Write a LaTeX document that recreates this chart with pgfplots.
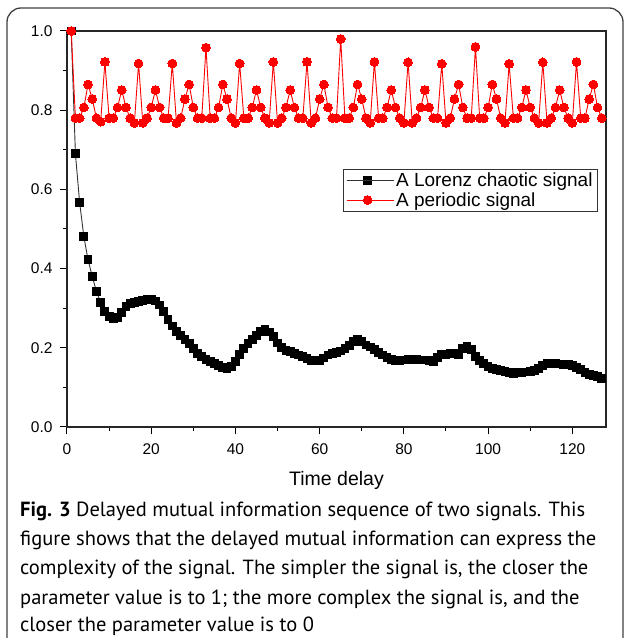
\documentclass[border=0pt]{standalone}
\usepackage{fontspec}
\setmainfont{Liberation Sans}
\newfontfamily\capfont{PT Sans}
\usepackage{pgfplots}
\pgfplotsset{compat=1.18}
\usepackage{pgfplotstable}

% delayed mutual information of the Lorenz signal
\pgfplotstableread{
t y
1 1.000
2 0.690
3 0.567
4 0.481
5 0.422
6 0.380
7 0.342
8 0.314
9 0.292
10 0.280
11 0.274
12 0.277
13 0.290
14 0.305
15 0.312
16 0.315
17 0.317
18 0.320
19 0.323
20 0.322
21 0.318
22 0.308
23 0.292
24 0.272
25 0.255
26 0.242
27 0.231
28 0.220
29 0.210
30 0.198
31 0.186
32 0.178
33 0.171
34 0.165
35 0.160
36 0.155
37 0.150
38 0.148
39 0.152
40 0.165
41 0.183
42 0.198
43 0.210
44 0.220
45 0.232
46 0.242
47 0.246
48 0.240
49 0.228
50 0.212
51 0.200
52 0.193
53 0.190
54 0.186
55 0.182
56 0.178
57 0.173
58 0.168
59 0.167
60 0.168
61 0.174
62 0.182
63 0.186
64 0.188
65 0.192
66 0.198
67 0.206
68 0.215
69 0.220
70 0.215
71 0.207
72 0.202
73 0.195
74 0.188
75 0.182
76 0.176
77 0.170
78 0.167
79 0.168
80 0.169
81 0.170
82 0.170
83 0.170
84 0.169
85 0.169
86 0.167
87 0.165
88 0.175
89 0.183
90 0.184
91 0.185
92 0.185
93 0.183
94 0.198
95 0.203
96 0.195
97 0.178
98 0.168
99 0.160
100 0.153
101 0.148
102 0.145
103 0.143
104 0.140
105 0.138
106 0.136
107 0.137
108 0.138
109 0.139
110 0.140
111 0.143
112 0.148
113 0.155
114 0.160
115 0.161
116 0.160
117 0.159
118 0.158
119 0.157
120 0.155
121 0.150
122 0.145
123 0.138
124 0.133
125 0.130
126 0.127
127 0.123
}\lorenz

% delayed mutual information of the periodic signal
\pgfplotstableread{
t y
1 1.000
2 0.780
3 0.780
4 0.807
5 0.865
6 0.828
7 0.780
8 0.771
9 0.922
10 0.780
11 0.780
12 0.807
13 0.851
14 0.807
15 0.780
16 0.768
17 0.918
18 0.768
19 0.780
20 0.807
21 0.851
22 0.807
23 0.780
24 0.780
25 0.918
26 0.768
27 0.780
28 0.828
29 0.865
30 0.807
31 0.780
32 0.780
33 0.958
34 0.780
35 0.780
36 0.807
37 0.865
38 0.828
39 0.780
40 0.768
41 0.918
42 0.780
43 0.780
44 0.807
45 0.851
46 0.807
47 0.780
48 0.768
49 0.922
50 0.768
51 0.780
52 0.807
53 0.851
54 0.807
55 0.780
56 0.780
57 0.922
58 0.768
59 0.780
60 0.828
61 0.865
62 0.807
63 0.780
64 0.780
65 0.980
66 0.780
67 0.780
68 0.807
69 0.865
70 0.828
71 0.780
72 0.768
73 0.922
74 0.780
75 0.780
76 0.807
77 0.851
78 0.807
79 0.780
80 0.768
81 0.921
82 0.768
83 0.780
84 0.807
85 0.851
86 0.807
87 0.780
88 0.780
89 0.917
90 0.768
91 0.780
92 0.828
93 0.865
94 0.807
95 0.780
96 0.780
97 0.960
98 0.780
99 0.780
100 0.807
101 0.865
102 0.828
103 0.780
104 0.768
105 0.917
106 0.780
107 0.780
108 0.807
109 0.851
110 0.807
111 0.780
112 0.768
113 0.921
114 0.768
115 0.780
116 0.807
117 0.851
118 0.807
119 0.780
120 0.768
121 0.922
122 0.780
123 0.780
124 0.828
125 0.865
126 0.807
127 0.780
}\periodic

\begin{document}
\begin{tikzpicture}[x=1pt,y=1pt]
\useasboundingbox (0,0) rectangle (625,638);
% figure frame
\draw[line width=1.3pt, black!75, rounded corners=14pt]
  (7,-30) -- (7,630) -- (623,630) -- (623,-30);

\begin{axis}[
  at={(67pt,211pt)}, anchor=south west,
  scale only axis, width=539pt, height=396pt,
  xmin=0, xmax=128, ymin=0, ymax=1,
  xtick={0,20,40,60,80,100,120},
  ytick={0,0.2,0.4,0.6,0.8,1.0},
  minor x tick num=1, minor y tick num=1,
  xtick pos=bottom, ytick pos=left,
  tick align=outside,
  major tick length=7pt, minor tick length=4pt,
  every tick/.style={black, line width=1pt},
  axis line style={black!85, line width=1.3pt},
  /pgf/number format/assume math mode=true,
  ticklabel style={font=\fontsize{15.5}{18}\selectfont},
  xticklabel style={yshift=-6pt},
  yticklabel style={xshift=-4pt, /pgf/number format/.cd, fixed, fixed zerofill, precision=1},
  xlabel={Time delay},
  xlabel style={font=\fontsize{19.5}{22}\selectfont, at={(axis description cs:0.5,-0.136)}, anchor=center},
  legend cell align=left,
  legend style={at={(0.985,0.652)}, anchor=north east,
    font=\fontsize{19}{24}\selectfont, draw=black!80, line width=0.8pt,
    inner xsep=3pt, inner ysep=1.5pt, row sep=0.5pt},
  legend image code/.code={%
    \draw[#1, mark repeat=2, mark phase=2]
      plot coordinates {(0pt,0pt) (21pt,0pt) (42pt,0pt)};
    \path (0pt,0pt) -- (47pt,0pt);},
]
\addplot[black!80, line width=0.9pt, mark=square*, mark size=3.9pt,
  mark options={black, line width=0pt}] table[x=t, y=y] {\lorenz};
\addlegendentry{A Lorenz chaotic signal}
\addplot[red, line width=0.9pt, mark=*, mark size=4.4pt,
  mark options={red, line width=0pt}] table[x=t, y=y] {\periodic};
\addlegendentry{A periodic signal}
\end{axis}

% caption
\begin{scope}[every node/.style={anchor=base west, inner sep=0pt,
    font=\capfont\fontsize{20.5}{28}\selectfont}]
\node at (20,121) {\textbf{Fig. 3} Delayed mutual information sequence of two signals. This};
\node at (20,92) {figure shows that the delayed mutual information can express the};
\node at (20,63) {complexity of the signal. The simpler the signal is, the closer the};
\node at (20,34) {parameter value is to 1; the more complex the signal is, and the};
\node at (20,6) {closer the parameter value is to 0};
\end{scope}
\end{tikzpicture}
\end{document}
